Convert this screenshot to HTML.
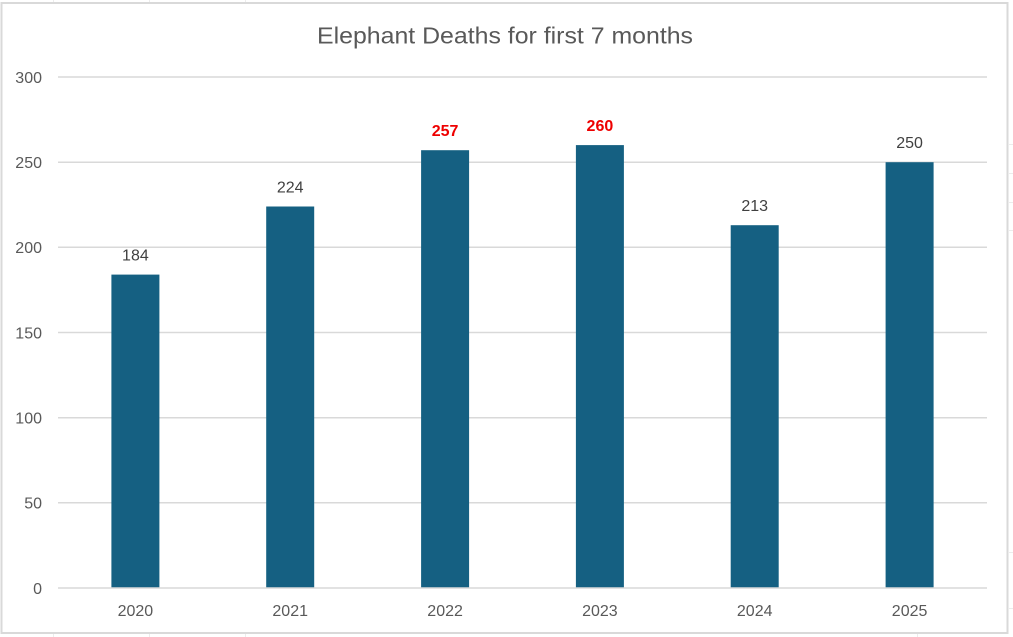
<!DOCTYPE html>
<html><head><meta charset="utf-8"><style>
html,body{margin:0;padding:0;background:#fff;}
svg{display:block;}
</style></head><body>
<svg width="1013" height="637" viewBox="0 0 1013 637" xmlns="http://www.w3.org/2000/svg" font-family="'Liberation Sans', Arial, sans-serif">
<rect width="1013" height="637" fill="#fff"/>
<!-- faint sheet gridlines outside chart -->
<g stroke="#ececec" stroke-width="1">
<line x1="53.5" y1="0" x2="53.5" y2="2"/><line x1="149.5" y1="0" x2="149.5" y2="2"/><line x1="245.5" y1="0" x2="245.5" y2="2"/>
<line x1="53.5" y1="634" x2="53.5" y2="637"/><line x1="149.5" y1="634" x2="149.5" y2="637"/><line x1="245.5" y1="634" x2="245.5" y2="637"/><line x1="917.5" y1="634" x2="917.5" y2="637"/>
<line x1="1009" y1="144.5" x2="1013" y2="144.5"/><line x1="1009" y1="173.5" x2="1013" y2="173.5"/><line x1="1009" y1="202.5" x2="1013" y2="202.5"/><line x1="1009" y1="230.5" x2="1013" y2="230.5"/>
<line x1="1009" y1="552.5" x2="1013" y2="552.5"/><line x1="1009" y1="608.5" x2="1013" y2="608.5"/>
</g>
<!-- chart border -->
<rect x="1.5" y="3" width="1006" height="630" fill="#fff" stroke="#d9d9d9" stroke-width="2"/>
<!-- title -->
<text x="505" y="43.5" font-size="23" fill="#595959" text-anchor="middle" textLength="376" lengthAdjust="spacingAndGlyphs">Elephant Deaths for first 7 months</text>
<!-- gridlines -->
<g stroke="#d9d9d9" stroke-width="1.5">
<line x1="58" y1="77" x2="987" y2="77"/>
<line x1="58" y1="162.2" x2="987" y2="162.2"/>
<line x1="58" y1="247.3" x2="987" y2="247.3"/>
<line x1="58" y1="332.5" x2="987" y2="332.5"/>
<line x1="58" y1="417.7" x2="987" y2="417.7"/>
<line x1="58" y1="502.8" x2="987" y2="502.8"/>
</g>
<!-- y tick labels -->
<g font-size="16" fill="#595959" text-anchor="end">
<text x="42" y="82.8">300</text>
<text x="42" y="168">250</text>
<text x="42" y="253.1">200</text>
<text x="42" y="338.3">150</text>
<text x="42" y="423.5">100</text>
<text x="42" y="508.6">50</text>
<text x="42" y="593.8">0</text>
</g>
<!-- bars -->
<g fill="#156082">
<rect x="111.4" y="274.6" width="48" height="313.4"/>
<rect x="266.2" y="206.5" width="48" height="381.5"/>
<rect x="421.1" y="150.2" width="48" height="437.8"/>
<rect x="575.9" y="145.1" width="48" height="442.9"/>
<rect x="730.7" y="225.2" width="48" height="362.8"/>
<rect x="885.6" y="162.2" width="48" height="425.8"/>
</g>
<!-- axis line -->
<line x1="58" y1="588" x2="987" y2="588" stroke="#d9d9d9" stroke-width="1.5"/>
<!-- data labels -->
<g font-size="16" text-anchor="middle" fill="#404040">
<text x="135.4" y="260.6">184</text>
<text x="290.2" y="192.5">224</text>
<text x="754.7" y="211.2">213</text>
<text x="909.6" y="148.2">250</text>
</g>
<g font-size="16" text-anchor="middle" fill="#ee0000" font-weight="bold">
<text x="445.1" y="136.2">257</text>
<text x="599.9" y="131.1">260</text>
</g>
<!-- category labels -->
<g font-size="16" text-anchor="middle" fill="#595959">
<text x="135.4" y="616">2020</text>
<text x="290.2" y="616">2021</text>
<text x="445.1" y="616">2022</text>
<text x="599.9" y="616">2023</text>
<text x="754.7" y="616">2024</text>
<text x="909.6" y="616">2025</text>
</g>
</svg>
</body></html>
